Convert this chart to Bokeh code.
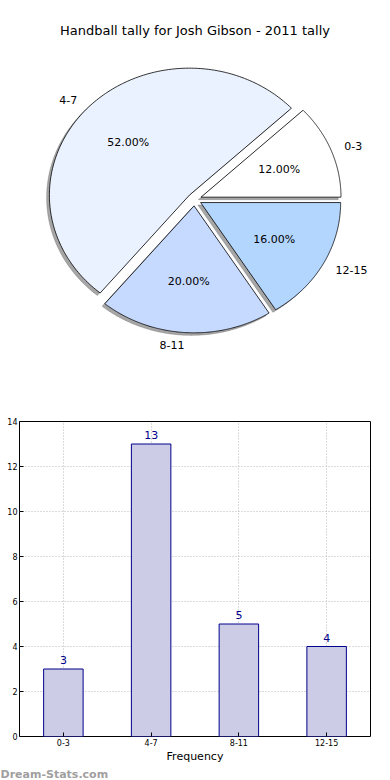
import numpy as np
from bokeh.plotting import figure
from bokeh.layouts import column
from bokeh.models import Range1d, Label, FactorRange, Title
from bokeh.embed import file_html
from bokeh.resources import INLINE
from bokeh.core.properties import value

# ---- data ----
categories = ["0-3", "4-7", "8-11", "12-15"]
counts = [3, 13, 5, 4]
pie_colors = ["#ffffff", "#ebf2ff", "#c6d9ff", "#b3d6ff"]
title_text = "Handball tally for Josh Gibson - 2011 tally"
x_label = "Frequency"
y_ticks = [0, 2, 4, 6, 8, 10, 12, 14]
watermark = "Dream-Stats.com"

FONT = "DejaVu Sans"
W = 390
PIE_H = 398
BAR_H = 382
BL, BR = 19, 20          # left / right borders shared by both figures

# ---- pie ----
explode = 0.05
rx_px, ry_px = 140.0, 127.0
cx_px, cy_px = 194.0, 199.0   # pie centre on the canvas

p1 = figure(width=W, height=PIE_H,
            x_range=Range1d(-(cx_px - BL) / rx_px, (W - BR - cx_px) / rx_px),
            y_range=Range1d(-(PIE_H - cy_px) / ry_px, cy_px / ry_px),
            output_backend="svg", toolbar_location=None,
            min_border_left=BL, min_border_right=BR, min_border_top=0, min_border_bottom=0,
            x_axis_type=None, y_axis_type=None)
p1.grid.visible = False
p1.outline_line_color = None

total = float(sum(counts))
fracs = np.array(counts) / total
starts = 2 * np.pi * np.concatenate([[0.0], np.cumsum(fracs)[:-1]])
ends = 2 * np.pi * np.cumsum(fracs)

xs, ys, sxs, sys_ = [], [], [], []
lab_x, lab_y, lab_t, lab_align = [], [], [], []
pct_x, pct_y, pct_t = [], [], []
for cat, f, s, e in zip(categories, fracs, starts, ends):
    m = (s + e) / 2.0
    ox, oy = explode * np.cos(m), explode * np.sin(m)
    t = np.linspace(s, e, 160)
    x = np.concatenate([[ox], ox + np.cos(t)])
    y = np.concatenate([[oy], oy + np.sin(t)])
    xs.append(list(x)); ys.append(list(y))
    sxs.append(list(x - 0.02)); sys_.append(list(y - 0.02))
    lx, ly = ox + 1.1 * np.cos(m), oy + 1.1 * np.sin(m)
    lab_x.append(lx); lab_y.append(ly); lab_t.append(cat)
    lab_align.append("left" if lx > 0 else "right")
    pct_x.append(ox + 0.6 * np.cos(m)); pct_y.append(oy + 0.6 * np.sin(m))
    pct_t.append("%.2f%%" % (f * 100))

p1.patches(xs=sxs, ys=sys_, fill_color="#4d4d4d", fill_alpha=0.5,
           line_color="#4d4d4d", line_alpha=0.5, line_width=0.5)
p1.patches(xs=xs, ys=ys, fill_color=pie_colors, line_color="black", line_width=0.8)

for lx, ly, lt, la in zip(lab_x, lab_y, lab_t, lab_align):
    p1.text(x=[lx], y=[ly], text=[lt], text_align=la, text_baseline="middle",
            text_font=value(FONT), text_font_size="11px", text_color="black")
p1.text(x=pct_x, y=pct_y, text=pct_t, text_align="center", text_baseline="middle",
        text_font=value(FONT), text_font_size="11px", text_color="black")

# Label screen units are measured from the frame's bottom-left corner
p1.add_layout(Label(x=194.5 - BL, y=PIE_H - 30, x_units="screen", y_units="screen",
                    text=title_text, text_align="center", text_baseline="middle",
                    text_font=FONT, text_font_size="13px", text_color="black"))

# ---- bar ----
BT, BB = 23, 40
p2 = figure(width=W, height=BAR_H, x_range=FactorRange(factors=categories),
            y_range=Range1d(0, 14), output_backend="svg", toolbar_location=None,
            min_border_left=BL, min_border_right=BR, min_border_top=BT, min_border_bottom=BB)
p2.vbar(x=categories, top=counts, width=0.45, fill_color="#ccccE6",
        line_color="#00008b", line_width=1)
p2.text(x=categories, y=counts, text=[str(c) for c in counts], text_align="center",
        text_baseline="bottom", y_offset=-5, text_font=value(FONT),
        text_font_size="11px", text_color="#00008b")

p2.outline_line_color = "black"
p2.outline_line_width = 1
for ax in (p2.xaxis, p2.yaxis):
    ax.axis_line_color = None
    ax.major_tick_in = 4
    ax.major_tick_out = 0
    ax.minor_tick_line_color = None
    ax.major_tick_line_color = "black"
    ax.major_label_text_font = FONT
    ax.major_label_text_font_size = "8px"
    ax.major_label_text_color = "black"
    ax.major_label_text_line_height = 1.0
    ax.major_label_standoff = 2
p2.yaxis.ticker = y_ticks
p2.xaxis.axis_label = x_label
p2.xaxis.axis_label_text_font = FONT
p2.xaxis.axis_label_text_font_size = "11px"
p2.xaxis.axis_label_text_font_style = "normal"
p2.xaxis.axis_label_text_color = "black"
p2.xaxis.axis_label_text_line_height = 1.0
p2.xaxis.axis_label_standoff = 1
p2.xgrid.grid_line_color = "#b8b8b8"
p2.ygrid.grid_line_color = "#b8b8b8"
p2.xgrid.grid_line_dash = "1 2"
p2.ygrid.grid_line_dash = "1 2"

wm = Title(text=watermark, align="left", offset=-BL, standoff=0,
           text_font=FONT, text_font_size="11px", text_font_style="bold",
           text_color="#a0a0a0", text_line_height=1.0)
p2.add_layout(wm, "below")

layout = column(p1, p2, spacing=0)
open("out.html", "w").write(file_html(layout, INLINE))
